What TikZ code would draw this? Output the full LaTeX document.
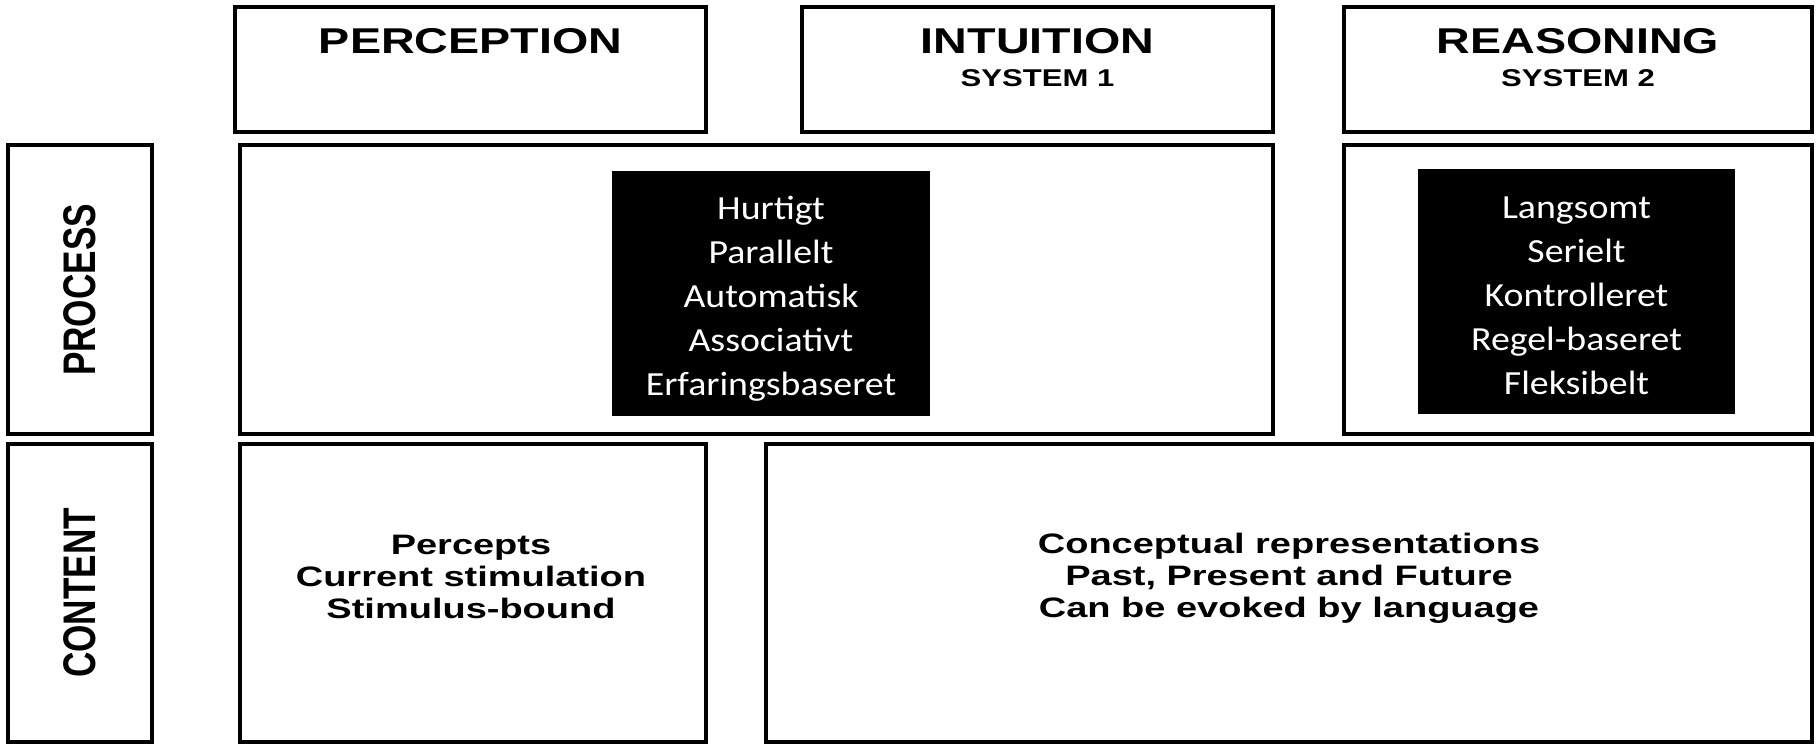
\documentclass[tikz,border=0pt]{standalone}
\usepackage{fontspec}
\setmainfont{Liberation Sans}
\newfontfamily\calibri{Carlito}

\tikzset{
  box/.style={draw, line width=1pt},
  head/.style={font=\bfseries\fontsize{10.2}{12}\selectfont, xscale=1.3, anchor=base},
  sub/.style={font=\bfseries\fontsize{6.9}{8}\selectfont, xscale=1.28, anchor=base},
  side/.style={font=\bfseries\fontsize{10}{12}\selectfont, xscale=1.3, rotate=90},
  trait/.style={font=\calibri\fontsize{9.6}{12.5}\selectfont, text=white, xscale=1.12, align=center},
  body/.style={font=\bfseries\fontsize{8}{9.1}\selectfont, xscale=1.35, align=center}
}

\begin{document}
\begin{tikzpicture}[x=0.01cm, y=-0.01cm]
  \useasboundingbox (0,0) rectangle (1816,746);

  % Column heads
  \draw[box] (235,7) rectangle (706,132);
  \draw[box] (802,7) rectangle (1273,132);
  \draw[box] (1344,7) rectangle (1812,132);
  \node[head] (perception) at (470.5,54) {PERCEPTION};
  \node[head] (intuition) at (1037.5,54) {INTUITION};
  \node[sub] (system1) at (1037.5,87) {SYSTEM 1};
  \node[head] (reasoning) at (1578,54) {REASONING};
  \node[sub] (system2) at (1578,87) {SYSTEM 2};

  % Row labels
  \draw[box] (8,145) rectangle (152,434);
  \draw[box] (8,444) rectangle (152,742);
  \node[side] (process) at (80,290) {PROCESS};
  \node[side] (content) at (80,593) {CONTENT};

  % Process row
  \draw[box] (240,145) rectangle (1273,434);
  \draw[box] (1344,145) rectangle (1812,434);
  \fill (612,171) rectangle (930,416);
  \fill (1418,169) rectangle (1735,414);
  \node[trait] (fast) at (771,299) {Hurtigt\\Parallelt\\Automatisk\\Associativt\\Erfaringsbaseret};
  \node[trait] (slow) at (1576.5,296) {Langsomt\\Serielt\\Kontrolleret\\Regel-baseret\\Fleksibelt};

  % Content row
  \draw[box] (240,444) rectangle (706,742);
  \draw[box] (766,444) rectangle (1812,742);
  \node[body] (percepts) at (471,577) {Percepts\\Current stimulation\\Stimulus-bound};
  \node[body] (concepts) at (1289,578) {Conceptual representations\\Past, Present and Future\\Can be evoked by language};
\end{tikzpicture}
\end{document}
